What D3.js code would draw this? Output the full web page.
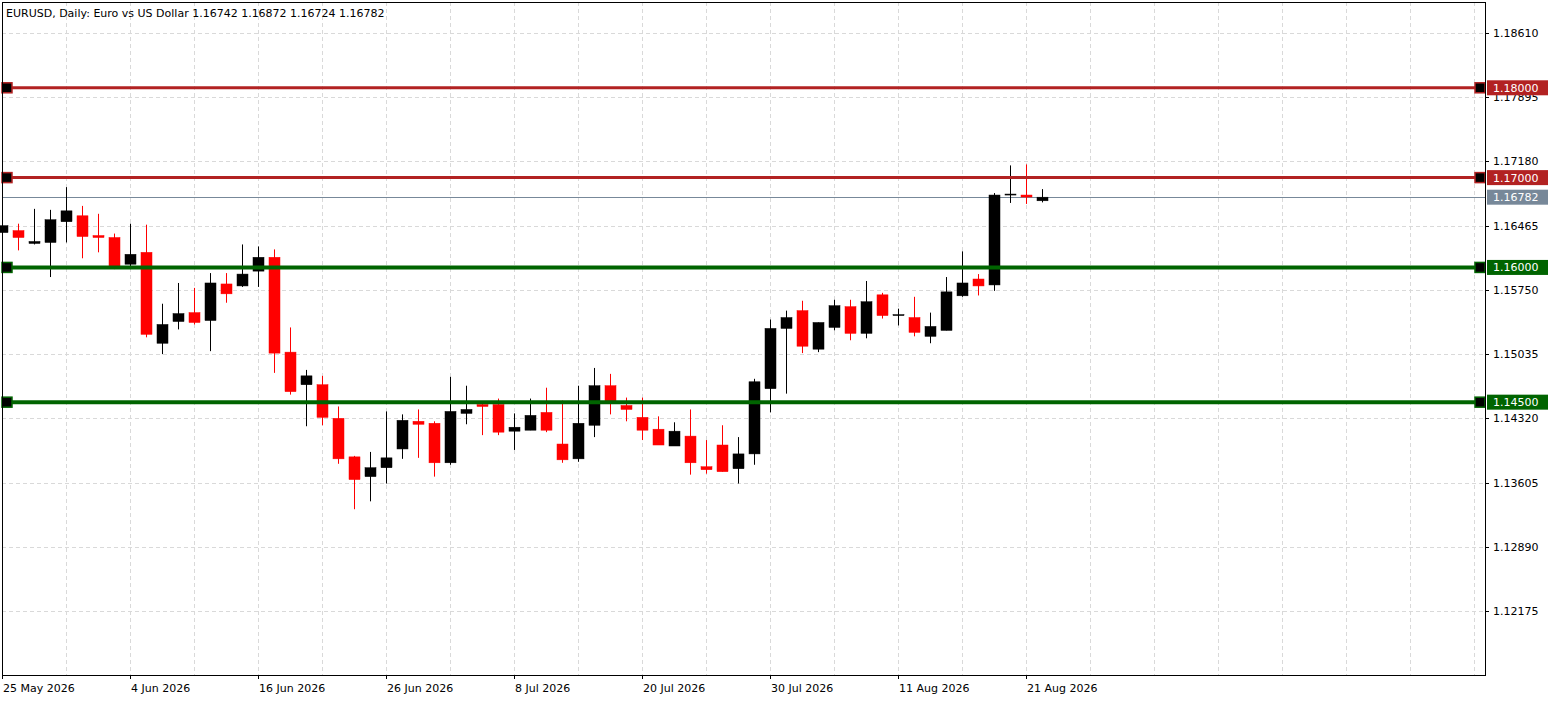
<!DOCTYPE html><html><head><meta charset="utf-8"><script src="https://cdn.jsdelivr.net/npm/d3@7/dist/d3.min.js"></script>
<style>body{margin:0;background:#fff}svg{display:block}text{font-family:"DejaVu Sans",sans-serif;font-size:11px}</style></head><body><svg id="c" width="1563" height="702"></svg><script>
const opens=[1.16388,1.16410,1.16267,1.16278,1.16509,1.16575,1.16355,1.16333,1.16036,1.16168,1.15156,1.15398,1.15497,1.15409,1.15816,1.15794,1.15959,1.16113,1.15057,1.14694,1.14694,1.14320,1.13891,1.13671,1.13770,1.13979,1.14287,1.14265,1.13825,1.14375,1.14474,1.14474,1.14177,1.14188,1.14386,1.14034,1.13869,1.14243,1.14683,1.14463,1.14331,1.14199,1.14012,1.14122,1.13781,1.14023,1.13759,1.13924,1.14650,1.15321,1.15519,1.15090,1.15332,1.15563,1.15266,1.15695,1.15464,1.15442,1.15233,1.15299,1.15684,1.15871,1.15805,1.16806,1.16806,1.16742];
const highs=[1.16465,1.16487,1.16652,1.16641,1.16894,1.16685,1.16597,1.16377,1.16487,1.16476,1.15596,1.15827,1.15772,1.15937,1.15937,1.16256,1.16234,1.16201,1.15332,1.14859,1.14793,1.14452,1.13902,1.13946,1.14397,1.14364,1.14419,1.14287,1.14782,1.14683,1.14507,1.14540,1.14375,1.14540,1.14661,1.14518,1.14683,1.14881,1.14815,1.14551,1.14551,1.14342,1.14276,1.14419,1.14078,1.14243,1.14111,1.14760,1.15420,1.15519,1.15629,1.15387,1.15640,1.15640,1.15849,1.15717,1.15541,1.15673,1.15497,1.15893,1.16179,1.15926,1.16828,1.17136,1.17147,1.16872];
const lows=[1.16388,1.16190,1.16256,1.15893,1.16278,1.16102,1.16168,1.15981,1.15981,1.15222,1.15035,1.15310,1.15365,1.15068,1.15607,1.15783,1.15783,1.14826,1.14584,1.14232,1.14243,1.13814,1.13308,1.13396,1.13594,1.13869,1.13880,1.13671,1.13803,1.14254,1.14133,1.14133,1.13968,1.14188,1.14166,1.13825,1.13836,1.14111,1.14364,1.14287,1.14078,1.14023,1.14012,1.13693,1.13704,1.13726,1.13594,1.13803,1.14386,1.14595,1.15046,1.15057,1.15299,1.15189,1.15211,1.15431,1.15354,1.15233,1.15156,1.15299,1.15673,1.15688,1.15739,1.16718,1.16707,1.16724];
const closes=[1.16465,1.16333,1.16289,1.16531,1.16630,1.16344,1.16333,1.16003,1.16146,1.15255,1.15365,1.15486,1.15387,1.15827,1.15706,1.15926,1.16113,1.15046,1.14617,1.14793,1.14331,1.13869,1.13638,1.13770,1.13880,1.14298,1.14254,1.13825,1.14397,1.14419,1.14452,1.14166,1.14221,1.14353,1.14188,1.13858,1.14265,1.14683,1.14485,1.14419,1.14188,1.14023,1.14177,1.13825,1.13748,1.13726,1.13924,1.14727,1.15321,1.15442,1.15123,1.15387,1.15574,1.15266,1.15618,1.15464,1.15475,1.15277,1.15343,1.15728,1.15827,1.15794,1.16806,1.16817,1.16784,1.16782];
const dateLabels=["25 May 2026","4 Jun 2026","16 Jun 2026","26 Jun 2026","8 Jul 2026","20 Jul 2026","30 Jul 2026","11 Aug 2026","21 Aug 2026"];
const priceTicks=[1.18610,1.17895,1.17180,1.16465,1.15750,1.15035,1.14320,1.13605,1.12890,1.12175];
const levels=[{p:1.18,c:"#b22222"},{p:1.17,c:"#b22222"},{p:1.16,c:"#006400"},{p:1.145,c:"#006400"}];
const lastPrice=1.16782;

const svg=d3.select("#c");
const L=2,R=1485,T=2,B=675;
const y=d3.scaleLinear().domain([1.18610,1.12175]).range([33,611]);
const x=d3.scaleLinear().domain([0,1]).range([2,18]);
const nBars=opens.length;
for(let i=4;x(i)<R;i+=4) svg.append("line").attr("x1",x(i)+.5).attr("x2",x(i)+.5).attr("y1",T).attr("y2",B).attr("stroke","#d9d9d9").attr("stroke-dasharray","4,3");
priceTicks.forEach(p=>svg.append("line").attr("x1",L).attr("x2",R).attr("y1",Math.round(y(p))+.5).attr("y2",Math.round(y(p))+.5).attr("stroke","#d9d9d9").attr("stroke-dasharray","4,3"));
svg.append("line").attr("x1",L).attr("x2",R).attr("y1",Math.round(y(lastPrice))+.5).attr("y2",Math.round(y(lastPrice))+.5).attr("stroke","#778899");
const cg=svg.append("g");
for(let i=0;i<nBars;i++){
 const up=closes[i]>=opens[i], col=up?"#000":"#ff0000", cx=Math.round(x(i))+.5;
 cg.append("line").attr("x1",cx).attr("x2",cx).attr("y1",y(highs[i])).attr("y2",y(lows[i])).attr("stroke",col);
 const t=y(Math.max(opens[i],closes[i])), b=y(Math.min(opens[i],closes[i]));
 cg.append("rect").attr("x",cx-5.5).attr("width",11).attr("y",t).attr("height",Math.max(1,b-t)).attr("fill",col).attr("stroke",col).attr("stroke-width",0.5);
}
levels.forEach(l=>{const yy=y(l.p);
 svg.append("line").attr("x1",L).attr("x2",R).attr("y1",yy).attr("y2",yy).attr("stroke",l.c).attr("stroke-width",l.c=="#006400"?4:3);
 [7,1480].forEach(px=>svg.append("rect").attr("x",px-5).attr("y",yy-5).attr("width",10).attr("height",10).attr("fill","#000").attr("stroke",l.c).attr("stroke-width",1.5));
});
svg.append("rect").attr("x",L+.5).attr("y",T+.5).attr("width",R-L).attr("height",B-T).attr("fill","none").attr("stroke","#000");
priceTicks.forEach(p=>{const yy=Math.round(y(p));
 svg.append("line").attr("x1",R).attr("x2",R+4).attr("y1",yy+.5).attr("y2",yy+.5).attr("stroke","#000");
 svg.append("text").attr("x",R+8).attr("y",yy+4).text(p.toFixed(5));});
levels.concat([{p:lastPrice,c:"#778899"}]).forEach(l=>{const yy=y(l.p);
 svg.append("rect").attr("x",R+2).attr("y",yy-7.5).attr("width",61).attr("height",15).attr("fill",l.c);
 svg.append("text").attr("x",R+8).attr("y",yy+4).attr("fill","#fff").text(l.p.toFixed(5));});
dateLabels.forEach((d,k)=>{const xx=Math.round(x(k*8));
 svg.append("line").attr("x1",xx+.5).attr("x2",xx+.5).attr("y1",B).attr("y2",B+4).attr("stroke","#000");
 svg.append("text").attr("x",xx+1).attr("y",692).text(d);});
svg.append("text").attr("x",6).attr("y",17).text("EURUSD, Daily:  Euro vs US Dollar  1.16742 1.16872 1.16724 1.16782");
</script></body></html>
